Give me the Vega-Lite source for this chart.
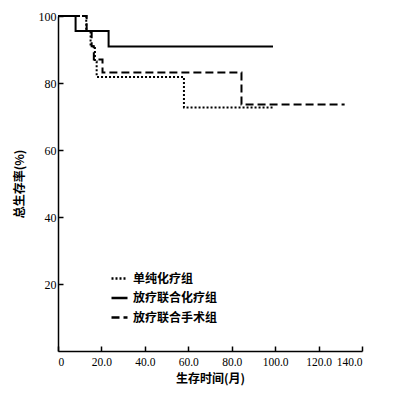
{
  "$schema": "https://vega.github.io/schema/vega-lite/v6.json",
  "width": 304,
  "height": 335,
  "autosize": {"type": "none"},
  "padding": {"left": 58, "top": 16, "right": 52, "bottom": 45},
  "background": "white",
  "config": {
    "view": {"stroke": null},
    "font": "Liberation Serif"
  },
  "data": {
    "values": [
      {"group": "单纯化疗组", "t": 0, "s": 100},
      {"group": "单纯化疗组", "t": 13, "s": 95.5},
      {"group": "单纯化疗组", "t": 15, "s": 91},
      {"group": "单纯化疗组", "t": 17, "s": 86.4},
      {"group": "单纯化疗组", "t": 17.8, "s": 81.8},
      {"group": "单纯化疗组", "t": 58, "s": 72.7},
      {"group": "单纯化疗组", "t": 99, "s": 72.7},
      {"group": "放疗联合化疗组", "t": 0, "s": 100},
      {"group": "放疗联合化疗组", "t": 8.1, "s": 95.5},
      {"group": "放疗联合化疗组", "t": 23.3, "s": 90.9},
      {"group": "放疗联合化疗组", "t": 99, "s": 90.9},
      {"group": "放疗联合手术组", "t": 0, "s": 100},
      {"group": "放疗联合手术组", "t": 13.2, "s": 95.5},
      {"group": "放疗联合手术组", "t": 15.5, "s": 91},
      {"group": "放疗联合手术组", "t": 16.5, "s": 87},
      {"group": "放疗联合手术组", "t": 20.5, "s": 83.1},
      {"group": "放疗联合手术组", "t": 84.5, "s": 73.6},
      {"group": "放疗联合手术组", "t": 132, "s": 73.6}
    ]
  },
  "mark": {"type": "line", "interpolate": "step-after", "strokeWidth": 2, "color": "black"},
  "encoding": {
    "x": {
      "field": "t", "type": "quantitative",
      "scale": {"domain": [0, 140], "nice": false, "zero": true},
      "axis": {
        "values": [0, 20, 40, 60, 80, 100, 120, 140],
        "labelExpr": "datum.value == 0 ? '0' : format(datum.value, '.1f')",
        "labelOverlap": false,
        "grid": false,
        "domainColor": "black", "domainWidth": 1.5,
        "tickColor": "black", "tickWidth": 1.5, "tickSize": -5,
        "labelPadding": 10,
        "labelFont": "Liberation Serif", "labelFontSize": 11.5, "labelColor": "black",
        "title": "生存时间(月)",
        "titleFont": "Noto Sans CJK SC", "titleFontSize": 12, "titleFontWeight": "bold", "titleColor": "black",
        "titlePadding": 6
      }
    },
    "y": {
      "field": "s", "type": "quantitative",
      "scale": {"domain": [0, 100], "nice": false},
      "axis": {
        "values": [20, 40, 60, 80, 100],
        "grid": false,
        "domainColor": "black", "domainWidth": 1.5,
        "tickColor": "black", "tickWidth": 1.5, "tickSize": -5,
        "labelPadding": 7,
        "labelFont": "Liberation Serif", "labelFontSize": 12, "labelColor": "black",
        "title": "总生存率(%)",
        "titleFont": "Noto Sans CJK SC", "titleFontSize": 12, "titleFontWeight": "bold", "titleColor": "black",
        "titlePadding": 12
      }
    },
    "strokeDash": {
      "field": "group", "type": "nominal",
      "scale": {
        "domain": ["单纯化疗组", "放疗联合化疗组", "放疗联合手术组"],
        "range": [[2, 2], [1, 0], [8, 4]]
      },
      "legend": {
        "title": null,
        "orient": "none",
        "legendX": 52,
        "legendY": 253,
        "symbolType": "stroke",
        "symbolSize": 256,
        "symbolStrokeWidth": 2.5,
        "symbolStrokeColor": "black",
        "labelFont": "Noto Sans CJK SC",
        "labelFontSize": 12,
        "labelFontWeight": "bold",
        "labelColor": "black",
        "rowPadding": 3.5
      }
    }
  }
}
